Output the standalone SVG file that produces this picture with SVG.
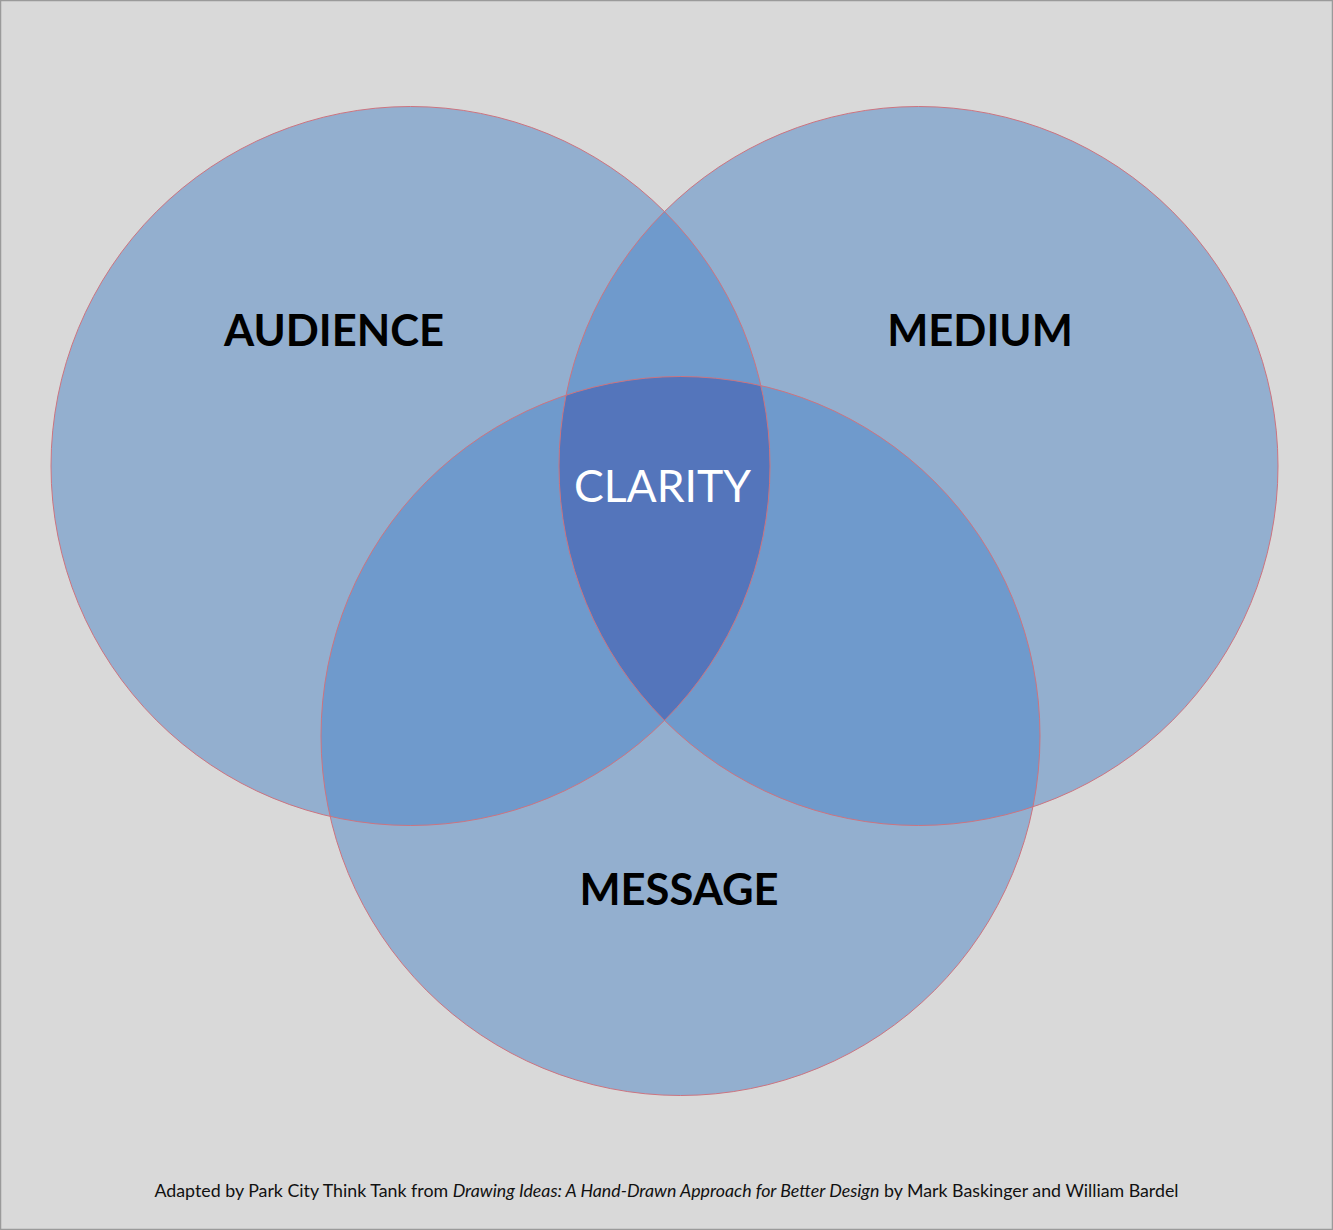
<svg xmlns="http://www.w3.org/2000/svg" width="1333" height="1230" viewBox="0 0 1333 1230">
<style>
.lbl{font-family:Lato,"Liberation Sans",sans-serif;font-weight:bold;font-size:43.5px;fill:#000;text-anchor:middle}
.clar{font-family:Lato,"Liberation Sans",sans-serif;font-size:44.5px;fill:#fff;text-anchor:middle}
.foot{font-family:Lato,"Liberation Sans",sans-serif;font-size:17.8px;fill:#111;text-anchor:middle}
.edge{fill:none;stroke:#cc7480;stroke-width:1}
</style>
<defs>
<circle id="cA" cx="410.5" cy="466" r="359.5"/>
<circle id="cM" cx="918.5" cy="466" r="359.5"/>
<circle id="cS" cx="680.5" cy="736" r="359.5"/>
<clipPath id="clipA"><use href="#cA"/></clipPath>
<clipPath id="clipM"><use href="#cM"/></clipPath>
<clipPath id="clipS"><use href="#cS"/></clipPath>
</defs>
<rect x="0.5" y="0.5" width="1332" height="1229" fill="#d9d9d9" stroke="#9a9a9a" stroke-width="1.5"/>
<g id="audience">
<use href="#cA" fill="#93afcf"/>
</g>
<g id="medium">
<use href="#cM" fill="#93afcf"/>
</g>
<g id="message">
<use href="#cS" fill="#93afcf"/>
</g>
<g id="overlaps">
<g clip-path="url(#clipA)"><use href="#cM" fill="#6f9acc"/><use href="#cS" fill="#6f9acc"/></g>
<g clip-path="url(#clipM)"><use href="#cS" fill="#6f9acc"/></g>
<g clip-path="url(#clipA)"><g clip-path="url(#clipM)"><use href="#cS" fill="#5475bb"/></g></g>
</g>
<g id="outlines">
<use href="#cA" class="edge"/>
<use href="#cM" class="edge"/>
<use href="#cS" class="edge"/>
</g>
<g id="labels">
<text class="lbl" x="334" y="346">AUDIENCE</text>
<text class="lbl" x="980" y="346">MEDIUM</text>
<text class="lbl" x="679" y="905">MESSAGE</text>
<text class="clar" x="662.5" y="502">CLARITY</text>
</g>
<text class="foot" x="666.5" y="1197">Adapted by Park City Think Tank from <tspan font-style="italic">Drawing Ideas: A Hand-Drawn Approach for Better Design</tspan> by Mark Baskinger and William Bardel</text>
</svg>
